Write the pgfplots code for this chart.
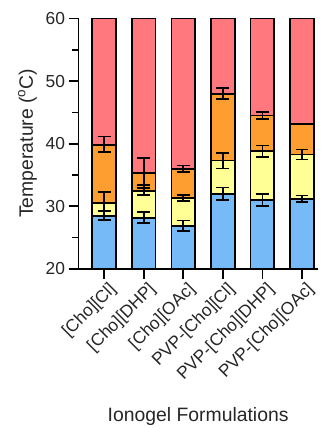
\documentclass[border=0pt]{standalone}
\usepackage{fontspec}
\setmainfont{Liberation Sans}
\usepackage{pgfplots}
\pgfplotsset{compat=1.18}
\definecolor{cblue}{RGB}{118,187,247}
\definecolor{cyellow}{RGB}{255,255,150}
\definecolor{corange}{RGB}{255,158,48}
\definecolor{cred}{RGB}{255,120,126}
\begin{document}
\begin{tikzpicture}
\begin{axis}[
  scale only axis,
  width=241pt, height=253pt,
  xmin=-0.65, xmax=5.4,
  ymin=20, ymax=60.17,
  axis x line*=bottom, axis y line*=left,
  axis line style={line width=1.7pt, black},
  xtick={0,1,2,3,4,5},
  xticklabels={{[Cho][Cl]},{[Cho][DHP]},{[Cho][OAc]},{PVP-[Cho][Cl]},{PVP-[Cho][DHP]},{PVP-[Cho][OAc]}},
  ytick={20,30,40,50,60},
  minor ytick={25,35,45,55},
  tick align=outside,
  major tick length=10pt, minor tick length=6pt,
  tick style={line width=1.7pt, black},
  /pgf/number format/assume math mode=true,
  ticklabel style={font=\fontsize{17.5}{18}\selectfont, text=black!85},
  xticklabel style={rotate=45, anchor=north east, inner sep=2pt, xshift=3pt, yshift=-2pt},
  label style={font=\fontsize{19.5}{22}\selectfont, text=black!85},
  xlabel={Ionogel Formulations},
  ylabel={Temperature (\textsuperscript{o}C)},
  xlabel style={yshift=-18pt},
  ylabel style={yshift=2pt},
]
\addplot[ybar, bar width=0.6, bar shift=0pt, fill=cred, draw=black, line width=1.7pt]
  coordinates {(0,60) (1,60) (2,60) (3,60) (4,60) (5,60)};
\addplot[ybar, bar width=0.6, bar shift=0pt, fill=corange, draw=black, line width=1.7pt]
  coordinates {(0,39.8) (1,35.3) (2,36.0) (3,48.0) (4,44.5) (5,43.2)};
\addplot[ybar, bar width=0.6, bar shift=0pt, fill=cyellow, draw=black, line width=1.7pt]
  coordinates {(0,30.5) (1,32.5) (2,31.3) (3,37.3) (4,38.8) (5,38.3)};
\addplot[ybar, bar width=0.6, bar shift=0pt, fill=cblue, draw=black, line width=1.7pt]
  coordinates {(0,28.5) (1,28.1) (2,26.8) (3,32.0) (4,31.0) (5,31.2)};
% error bars
\addplot[draw=none, mark=none, forget plot,
  error bars/.cd, y dir=both, y explicit,
  error bar style={draw=black, line width=1.7pt},
  error mark options={draw=black, rotate=90, mark size=6.5pt, line width=1.7pt}]
  coordinates {
  (0,39.9) +- (0,1.25) (1,35.3) +- (0,2.4) (2,36.0) +- (0,0.5) (3,48.0) +- (0,0.9) (4,44.5) +- (0,0.55)
  (0,30.8) +- (0,1.5) (1,32.6) +- (0,0.8) (2,31.3) +- (0,0.5) (3,37.3) +- (0,1.25) (4,38.8) +- (0,0.9) (5,38.3) +- (0,0.8)
  (0,28.5) +- (0,0.65) (1,28.2) +- (0,0.9) (2,26.9) +- (0,0.85) (3,32.0) +- (0,1.0) (4,31.0) +- (0,1.0) (5,31.2) +- (0,0.55)
  };
\end{axis}
\path (current axis.south west) ++(-79pt,-158.3pt) rectangle ++(325pt,429pt);
\end{tikzpicture}
\end{document}
